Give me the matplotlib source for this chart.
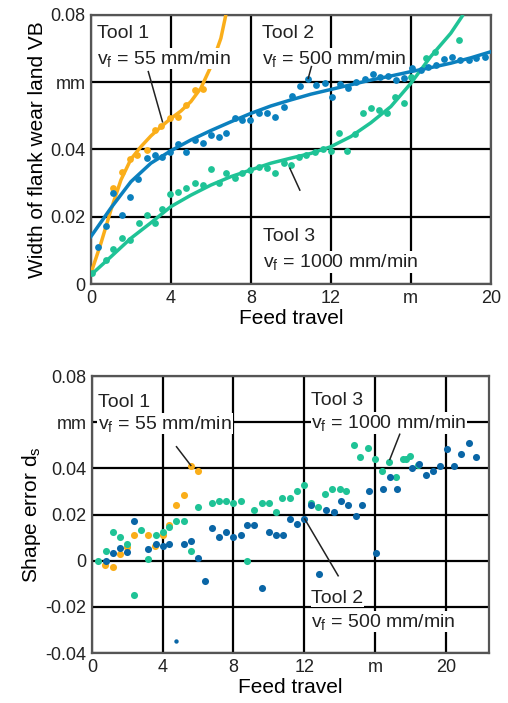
import matplotlib
matplotlib.use("Agg")
import matplotlib.pyplot as plt

plt.rcParams["font.family"] = ["Liberation Sans", "DejaVu Sans"]
plt.rcParams["mathtext.fontset"] = "custom"
plt.rcParams["mathtext.rm"] = "Liberation Sans"
plt.rcParams["mathtext.it"] = "Liberation Sans"

orange = "#FAAE1A"
blue = "#0B80BE"
green = "#1FC396"
dblue = "#0A66A6"

# --- top chart: flank wear ---
t1_x = [1.12, 1.53, 1.95, 2.28, 2.78, 3.2, 3.53, 3.95, 4.37, 4.78, 5.2, 5.62]
t1_y = [0.0284, 0.0334, 0.037, 0.0383, 0.0398, 0.0458, 0.047, 0.0492, 0.0497, 0.0532, 0.0577, 0.0579]
t1_fit_x = [0, 0.5, 1, 1.5, 2, 2.5, 3, 3.5, 4, 4.5, 5, 5.5, 6, 6.5, 6.75]
t1_fit_y = [0.0032, 0.0121, 0.022, 0.0309, 0.0371, 0.0408, 0.044, 0.0467, 0.0492,
            0.0514, 0.0542, 0.0582, 0.0646, 0.073, 0.08]

t2_x = [0.37, 0.75, 1.12, 1.53, 1.95, 2.37, 2.78, 3.2, 3.58, 3.98, 4.38, 4.78, 5.2, 5.62,
        6.0, 6.42, 6.78, 7.2, 7.58, 7.98, 8.4, 8.82, 9.23, 9.65, 10.07, 10.45, 10.88,
        11.28, 11.7, 12.08, 12.48, 12.87, 13.28, 13.7, 14.12, 14.48, 14.87, 15.25,
        15.65, 16.07, 16.5, 16.85, 17.28, 17.67, 18.08, 18.48, 18.9, 19.28, 19.7]
t2_y = [0.0111, 0.0172, 0.027, 0.0205, 0.0259, 0.0311, 0.0373, 0.0383, 0.0376, 0.0393,
        0.0415, 0.0393, 0.0428, 0.0418, 0.0443, 0.0436, 0.045, 0.0492, 0.0487, 0.0487,
        0.0509, 0.0509, 0.0497, 0.0525, 0.0559, 0.0588, 0.0608, 0.0591, 0.0598, 0.0557,
        0.0594, 0.0581, 0.0601, 0.0608, 0.0624, 0.0616, 0.0617, 0.0606, 0.0611, 0.0641,
        0.0636, 0.0645, 0.0651, 0.0668, 0.0674, 0.0666, 0.0666, 0.0671, 0.0674]
t2_fit_x = [0, 1, 2, 3, 4, 5, 6, 7, 8, 9, 10, 11, 12, 13, 14, 15, 16, 17, 18, 19, 20]
t2_fit_y = [0.0141, 0.0226, 0.0304, 0.0359, 0.0396, 0.0428, 0.0456, 0.0482, 0.0507,
            0.0529, 0.0547, 0.0564, 0.0578, 0.0592, 0.0606, 0.0618, 0.0631, 0.0643,
            0.0656, 0.0672, 0.069]

t3_x = [0.03, 0.75, 1.12, 1.53, 1.95, 2.42, 2.78, 3.2, 3.58, 3.98, 4.38, 4.78, 5.2, 5.62,
        6.0, 6.42, 6.78, 7.2, 7.58, 7.98, 8.4, 8.82, 9.23, 9.65, 10.0, 10.42, 10.78, 11.2,
        11.62, 12.03, 12.42, 12.82, 13.2, 13.62, 14.0, 14.42, 14.82, 15.23, 15.65, 16.03,
        16.78, 17.2, 18.42]
t3_y = [0.0032, 0.0071, 0.0103, 0.0136, 0.0131, 0.0182, 0.0205, 0.0182, 0.0222, 0.0267,
        0.0274, 0.0284, 0.0301, 0.0294, 0.0341, 0.0299, 0.0329, 0.0314, 0.0329, 0.0339,
        0.0349, 0.0344, 0.0329, 0.0359, 0.0354, 0.0378, 0.0383, 0.0393, 0.04, 0.0395,
        0.0448, 0.0396, 0.0446, 0.0507, 0.0524, 0.0517, 0.0507, 0.0557, 0.0539, 0.0614,
        0.0671, 0.069, 0.0725]
t3_fit_x = [0, 1, 2, 3, 4, 5, 6, 7, 8, 9, 10, 11, 12, 13, 14, 15, 16, 17, 18, 18.62]
t3_fit_y = [0.0027, 0.0081, 0.0136, 0.0182, 0.023, 0.0264, 0.0294, 0.0319, 0.0339,
            0.0359, 0.0374, 0.0388, 0.0408, 0.0438, 0.0479, 0.0527, 0.0596, 0.0676,
            0.0745, 0.08]

# --- bottom chart: shape error ---
e1_x = [0.73, 1.17, 1.58, 2.0, 2.37, 3.18, 3.56, 3.99, 4.37, 4.78, 5.2, 5.59, 5.97]
e1_y = [-0.002, -0.0028, 0.003, 0.0059, 0.0113, 0.0113, 0.0062, 0.0113, 0.0154, 0.0241,
        0.0283, 0.041, 0.0391]

e3_x = [0.36, 0.77, 1.17, 1.58, 2.0, 2.37, 2.77, 3.18, 3.6, 3.99, 4.37, 4.78, 5.2, 5.59,
        5.97, 6.78, 7.19, 7.6, 7.98, 8.4, 8.79, 9.17, 9.59, 10.0, 10.4, 10.77, 11.19, 11.6,
        11.98, 12.37, 12.79, 13.16, 13.58, 14.01, 14.39, 14.8, 15.18, 15.61, 16.03, 16.4,
        16.8, 17.18, 17.59, 17.75, 18.0, 18.44]
e3_y = [0.0001, 0.0043, 0.0123, 0.0101, 0.0072, -0.0148, 0.0132, 0.0009, 0.0113, 0.0123,
        0.0145, 0.0172, 0.0172, 0.0043, 0.0232, 0.0251, 0.0261, 0.0261, 0.0251, 0.0261,
        0.0001, 0.0222, 0.0251, 0.0251, 0.021, 0.0272, 0.0272, 0.0301, 0.033, 0.0251,
        0.0232, 0.0291, 0.0312, 0.0312, 0.0301, 0.05, 0.0451, 0.049, 0.0442, 0.0391,
        0.0429, 0.0362, 0.0442, 0.0442, 0.0454, 0.0413]

e2_x = [0.77, 1.17, 1.58, 2.0, 2.37, 3.18, 3.6, 3.99, 4.37, 5.2, 5.59, 5.97, 6.38, 6.78,
        7.19, 7.6, 7.98, 8.4, 8.79, 9.17, 9.64, 10.0, 10.4, 10.8, 11.19, 11.6, 12.0, 12.37,
        12.84, 13.26, 13.67, 14.07, 14.48, 14.9, 15.27, 15.67, 16.08, 16.46, 16.87, 17.27,
        18.1, 18.47, 18.87, 19.28, 19.66, 20.1, 20.47, 20.89, 21.3, 21.69]
e2_y = [0.0001, 0.0033, 0.0055, 0.0036, 0.0171, 0.0052, 0.0072, 0.0062, 0.0072, 0.0072,
        0.0084, 0.0012, -0.0087, 0.0142, 0.0101, 0.0123, 0.0101, 0.0113, 0.0154, 0.0154,
        -0.0119, 0.0123, 0.0113, 0.0113, 0.0183, 0.0161, 0.0183, 0.0243, -0.0058, 0.0222,
        0.0212, 0.0261, 0.0241, 0.0193, 0.0241, 0.0301, 0.0033, 0.0312, 0.0362, 0.0312,
        0.0403, 0.042, 0.0371, 0.0391, 0.041, 0.0483, 0.041, 0.0461, 0.0512, 0.0451]
e2_small_x = [4.78]
e2_small_y = [-0.0348]

x_ticks = [0, 4, 8, 12, 16, 20]
x_labels = ["0", "4", "8", "12", "m", "20"]
top_yticks = [0, 0.02, 0.04, 0.06, 0.08]
top_ylabels = ["0", "0.02", "0.04", "mm", "0.08"]
bot_yticks = [-0.04, -0.02, 0, 0.02, 0.04, 0.06, 0.08]
bot_ylabels = ["-0.04", "-0.02", "0", "0.02", "0.04", "mm", "0.08"]

fig = plt.figure(figsize=(5.08, 7.03), dpi=100)
ax1 = fig.add_axes([0.179, 0.596, 0.787, 0.383])
ax2 = fig.add_axes([0.181, 0.071, 0.781, 0.394])


def style(ax, yticks, ylabels):
    ax.set_xticks(x_ticks)
    ax.set_xticklabels(x_labels)
    ax.set_yticks(yticks)
    ax.set_yticklabels(ylabels)
    ax.tick_params(length=0, labelsize=13, pad=4, colors="#222222")
    ax.grid(True, color="black", linewidth=1.6)
    ax.set_axisbelow(True)
    for s in ax.spines.values():
        s.set_color("#555555")
        s.set_linewidth(1.6)
    ax.set_xlabel("Feed travel", fontsize=15, labelpad=2)


txt = dict(fontsize=14, color="#222222", va="center", ha="left", zorder=5,
           bbox=dict(facecolor="white", edgecolor="none", pad=0.5))

# top
style(ax1, top_yticks, top_ylabels)
ax1.set_xlim(0, 20)
ax1.set_ylim(0, 0.08)
ax1.set_ylabel("Width of flank wear land VB", fontsize=15, labelpad=2)
ax1.plot(t1_fit_x, t1_fit_y, color=orange, lw=2.5, zorder=3, solid_capstyle="butt")
ax1.plot(t2_fit_x, t2_fit_y, color=blue, lw=2.5, zorder=3)
ax1.plot(t3_fit_x, t3_fit_y, color=green, lw=2.5, zorder=3, solid_capstyle="butt")
ax1.scatter(t1_x, t1_y, s=24, color=orange, zorder=4, linewidths=0)
ax1.scatter(t2_x, t2_y, s=24, color=blue, zorder=4, linewidths=0)
ax1.scatter(t3_x, t3_y, s=24, color=green, zorder=4, linewidths=0)
ax1.text(0.3, 0.0744, "Tool 1", **txt)
ax1.text(0.3, 0.0670, "v$_\\mathrm{f}$ = 55 mm/min", **txt)
ax1.text(8.55, 0.0744, "Tool 2", **txt)
ax1.text(8.55, 0.0670, "v$_\\mathrm{f}$ = 500 mm/min", **txt)
ax1.text(8.6, 0.0140, "Tool 3", **txt)
ax1.text(8.6, 0.0066, "v$_\\mathrm{f}$ = 1000 mm/min", **txt)
ax1.plot([2.87, 3.58], [0.0631, 0.0482], color="#222222", lw=1.1, zorder=6)
ax1.plot([11.03, 10.87], [0.0646, 0.0611], color="#222222", lw=1.1, zorder=6)
ax1.plot([9.95, 10.45], [0.0344, 0.0279], color="#222222", lw=1.1, zorder=6)

# bottom
style(ax2, bot_yticks, bot_ylabels)
ax2.set_xlim(0, 22.43)
ax2.set_ylim(-0.04, 0.08)
ax2.set_ylabel("Shape error d$_\\mathrm{s}$", fontsize=15, labelpad=2)
ax2.scatter(e1_x, e1_y, s=26, color=orange, zorder=4, linewidths=0)
ax2.scatter(e3_x, e3_y, s=26, color=green, zorder=4, linewidths=0)
ax2.scatter(e2_x, e2_y, s=26, color=dblue, zorder=4, linewidths=0)
ax2.scatter(e2_small_x, e2_small_y, s=10, color=dblue, zorder=4, linewidths=0)
ax2.text(0.35, 0.0685, "Tool 1", **txt)
ax2.text(0.35, 0.0594, "v$_\\mathrm{f}$ = 55 mm/min", **txt)
ax2.text(12.4, 0.0695, "Tool 3", **txt)
ax2.text(12.4, 0.0597, "v$_\\mathrm{f}$ = 1000 mm/min", **txt)
ax2.text(12.4, -0.0162, "Tool 2", **txt)
ax2.text(12.4, -0.0264, "v$_\\mathrm{f}$ = 500 mm/min", **txt)
ax2.plot([4.78, 5.59], [0.0494, 0.0413], color="#222222", lw=1.1, zorder=6)
ax2.plot([17.4, 16.84], [0.0548, 0.0439], color="#222222", lw=1.1, zorder=6)
ax2.plot([13.92, 12.03], [-0.0065, 0.0181], color="#222222", lw=1.1, zorder=6)

fig.savefig("out.png", dpi=100)
